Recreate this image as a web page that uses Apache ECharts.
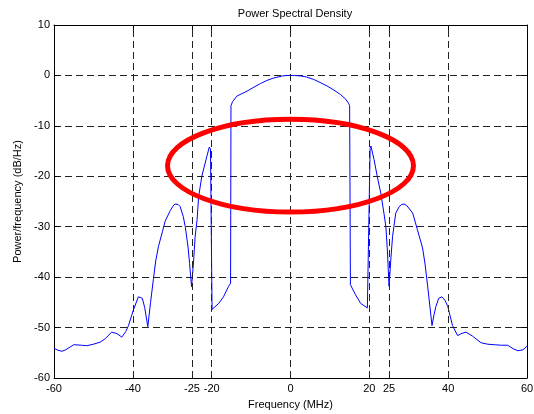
<!DOCTYPE html>
<html>
<head>
<meta charset="utf-8">
<style>
  html, body { margin: 0; padding: 0; background: #fff; }
  #chart { width: 534px; height: 414px; }
</style>
<script src="https://cdn.jsdelivr.net/npm/echarts@6/dist/echarts.min.js"></script>
</head>
<body>
<div id="chart"></div>
<script>
// Spectrum estimate: frequency (MHz) and PSD (dB/Hz)
const freq = [
  -60, -59, -58, -57, -55, -53, -51.7, -50, -48.3, -47, -45.4, -44, -42.8, -41.8,
  -41.1, -39.9, -38.6, -37.6, -37.0, -36.2, -35.5, -34.8, -34.2, -33.5, -32.5, -31.8,
  -30.5, -29.8, -29.3, -28.5, -28.0, -27.2, -26.7, -26.0, -25.6, -25.1, -24.6, -24.2,
  -23.7, -23.3, -22.5, -21.2, -20.6, -20.3, -19.9, -18.2, -17.0, -15.7, -15.2,
  -15.1, -14.7, -13.6, -11, -9, -7.6, -6, -4.2, -2, -0.8, 1, 2.5, 4, 5.9, 7.5,
  9.3, 11, 12.7, 14.0, 14.7, 15.0, 15.2, 16.5, 17.8, 19.5, 19.9, 20.2, 20.4,
  21.2, 22.0, 22.9, 23.7, 24.2, 24.6, 25.0, 25.5, 25.9, 26.7, 27.6, 28.2, 28.8, 29.5, 30,
  31.0, 32.2, 33.5, 34.1, 34.8, 35.9, 36.4, 36.9, 37.6, 38.4, 39.2, 39.9, 41.1,
  42.4, 43.3, 44.5, 46.2, 48.3, 50, 51.7, 53.5, 55.1, 56.5, 57.7, 59, 60
];
const psd = [
  -54.1, -54.5, -54.7, -54.4, -53.4, -53.5, -53.6, -53.3, -52.9, -52.2, -50.9, -51.2, -51.9, -50.8,
  -49.6, -46.6, -43.9, -44.2, -46.0, -49.8, -45.0, -40.5, -36.8, -33.9, -31.0, -28.9,
  -26.8, -25.9, -25.5, -25.6, -26.0, -28.0, -30.0, -34.0, -37.3, -41.9, -37.0, -32.0,
  -28.6, -24.0, -20.0, -16.0, -14.2, -14.6, -46.4, -45.2, -43.9, -41.8, -41.2,
  -6.0, -5.2, -4.1, -3.1, -2.2, -1.6, -1.0, -0.5, -0.1, 0, 0, -0.1, -0.3, -0.8, -1.4,
  -2.1, -2.9, -3.8, -4.7, -5.5, -6.0, -41.5, -43.5, -45.2, -46.1, -46.3, -14.5, -14.0,
  -16.7, -20.0, -23.3, -27.3, -30.0, -35.0, -41.8, -36.0, -31.9, -27.3, -26.0, -25.6, -25.5, -25.8, -26.3,
  -27.3, -30.6, -34.2, -37.2, -41.8, -49.6, -47.5, -45.8, -44.2, -43.9, -44.6, -45.8, -49.6,
  -51.6, -51.2, -50.9, -51.7, -53.0, -53.3, -53.4, -53.5, -53.5, -54.2, -54.6, -54.4, -53.7
];

// Axis ticks
const xTicks = [-60, -40, -25, -20, 0, 20, 25, 40, 60];

// Highlighted band around the occupied channel: centre and radii in data units
const bandCenter = [0, -17.9];
const bandRadius = [31.2, 9.2];

const font = "'Liberation Sans', Arial, Helvetica, sans-serif";
const chart = echarts.init(document.getElementById('chart'), null, { renderer: 'canvas' });

const dash = { color: '#222', width: 1, type: [7, 4] };
const boxTick = { show: true, inside: true, length: 5, lineStyle: { color: '#000', width: 1 } };

chart.setOption({
  animation: false,
  backgroundColor: '#fff',
  title: {
    text: 'Power Spectral Density',
    left: 290, top: 3, textAlign: 'center',
    textStyle: { fontFamily: font, fontSize: 11, fontWeight: 'normal', color: '#000' }
  },
  grid: { left: 54, right: 7, top: 25, bottom: 36, containLabel: false, outerBoundsMode: 'none' },
  xAxis: [{
    type: 'value', min: -60, max: 60, position: 'bottom',
    name: 'Frequency (MHz)', nameLocation: 'middle', nameGap: 21,
    nameTextStyle: { fontFamily: font, fontSize: 11, color: '#000' },
    axisLine: { show: true, onZero: false, lineStyle: { color: '#000', width: 1 } },
    axisTick: Object.assign({ customValues: xTicks }, boxTick),
    axisLabel: { customValues: xTicks, fontFamily: font, fontSize: 11, color: '#000', margin: 5 },
    splitLine: { show: false }
  }, {
    type: 'value', min: -60, max: 60, position: 'top',
    axisLine: { show: true, onZero: false, lineStyle: { color: '#000', width: 1 } },
    axisTick: Object.assign({ customValues: xTicks }, boxTick),
    axisLabel: { show: false },
    splitLine: { show: false }
  }],
  yAxis: [{
    type: 'value', min: -60, max: 10, interval: 10, position: 'left',
    name: 'Power/frequency (dB/Hz)', nameLocation: 'middle', nameGap: 29,
    nameTextStyle: { fontFamily: font, fontSize: 11, color: '#000' },
    axisLine: { show: true, onZero: false, lineStyle: { color: '#000', width: 1 } },
    axisTick: boxTick,
    axisLabel: { fontFamily: font, fontSize: 11, color: '#000', margin: 4 },
    splitLine: { show: true, lineStyle: dash }
  }, {
    type: 'value', min: -60, max: 10, interval: 10, position: 'right',
    axisLine: { show: true, onZero: false, lineStyle: { color: '#000', width: 1 } },
    axisTick: boxTick,
    axisLabel: { show: false },
    splitLine: { show: false }
  }],
  series: [{
    // vertical grid lines at the labelled frequencies
    type: 'line', data: [], z: 1, silent: true,
    markLine: {
      silent: true, symbol: 'none', animation: false,
      label: { show: false },
      lineStyle: dash,
      data: xTicks.filter(v => v > -60 && v < 60).map(v => ({ xAxis: v }))
    }
  }, {
    name: 'PSD', type: 'line', z: 3,
    data: freq.map((f, i) => [f, psd[i]]),
    showSymbol: false, smooth: false,
    lineStyle: { color: '#0000ff', width: 1 }
  }]
});

// Red ellipse marking the band, placed through the grid's coordinate system
const c = chart.convertToPixel({ gridIndex: 0 }, bandCenter);
const e = chart.convertToPixel({ gridIndex: 0 }, [bandCenter[0] + bandRadius[0], bandCenter[1] + bandRadius[1]]);
chart.setOption({
  graphic: [{
    type: 'ellipse', z: 100,
    shape: { cx: c[0], cy: c[1], rx: Math.abs(e[0] - c[0]), ry: Math.abs(e[1] - c[1]) },
    style: { fill: null, stroke: '#ff0000', lineWidth: 5 }
  }]
});
</script>
</body>
</html>
